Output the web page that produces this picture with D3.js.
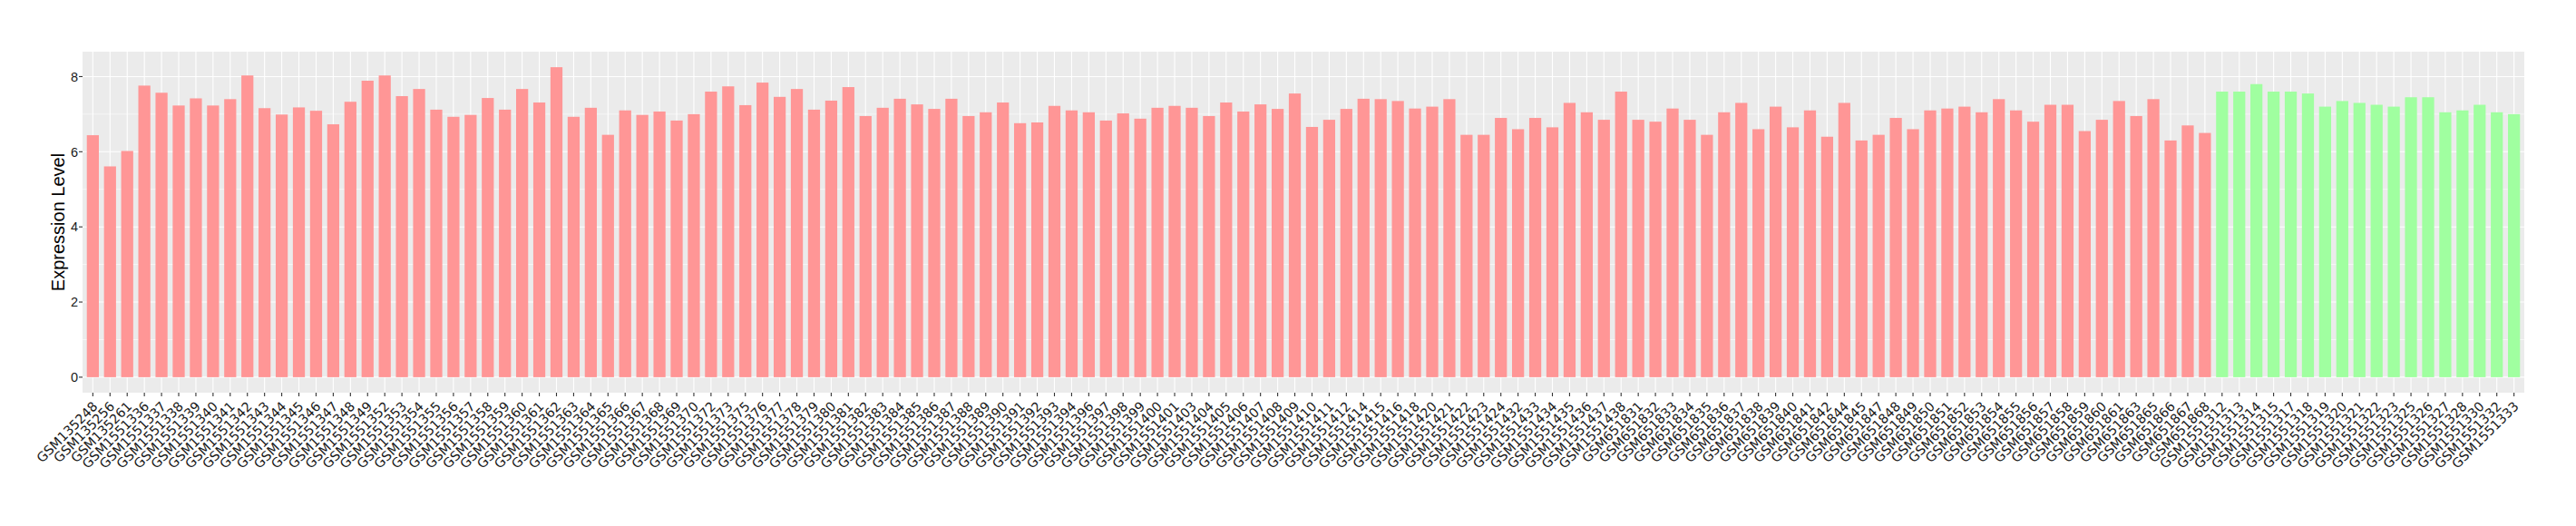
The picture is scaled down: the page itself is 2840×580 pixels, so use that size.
<!DOCTYPE html>
<html>
<head>
<meta charset="utf-8">
<script src="https://cdn.jsdelivr.net/npm/d3@7"></script>
<style>
  html, body { margin: 0; padding: 0; background: #ffffff; }
  svg { display: block; }
</style>
</head>
<body>
<svg id="chart" width="2840" height="580"></svg>
<script>
const samples = [
  "GSM135248","GSM135256","GSM135261","GSM1551336","GSM1551337","GSM1551338","GSM1551339","GSM1551340","GSM1551341","GSM1551342",
  "GSM1551343","GSM1551344","GSM1551345","GSM1551346","GSM1551347","GSM1551348","GSM1551349","GSM1551352","GSM1551353","GSM1551354",
  "GSM1551355","GSM1551356","GSM1551357","GSM1551358","GSM1551359","GSM1551360","GSM1551361","GSM1551362","GSM1551363","GSM1551364",
  "GSM1551365","GSM1551366","GSM1551367","GSM1551368","GSM1551369","GSM1551370","GSM1551372","GSM1551373","GSM1551375","GSM1551376",
  "GSM1551377","GSM1551378","GSM1551379","GSM1551380","GSM1551381","GSM1551382","GSM1551383","GSM1551384","GSM1551385","GSM1551386",
  "GSM1551387","GSM1551388","GSM1551389","GSM1551390","GSM1551391","GSM1551392","GSM1551393","GSM1551394","GSM1551396","GSM1551397",
  "GSM1551398","GSM1551399","GSM1551400","GSM1551401","GSM1551403","GSM1551404","GSM1551405","GSM1551406","GSM1551407","GSM1551408",
  "GSM1551409","GSM1551410","GSM1551411","GSM1551412","GSM1551414","GSM1551415","GSM1551416","GSM1551418","GSM1551420","GSM1551421",
  "GSM1551422","GSM1551423","GSM1551424","GSM1551432","GSM1551433","GSM1551434","GSM1551435","GSM1551436","GSM1551437","GSM1551438",
  "GSM651831","GSM651832","GSM651833","GSM651834","GSM651835","GSM651836","GSM651837","GSM651838","GSM651839","GSM651840",
  "GSM651841","GSM651842","GSM651844","GSM651845","GSM651847","GSM651848","GSM651849","GSM651850","GSM651851","GSM651852",
  "GSM651853","GSM651854","GSM651855","GSM651856","GSM651857","GSM651858","GSM651859","GSM651860","GSM651861","GSM651863",
  "GSM651865","GSM651866","GSM651867","GSM651868",
  "GSM1551312","GSM1551313","GSM1551314","GSM1551315","GSM1551317","GSM1551318","GSM1551319","GSM1551320","GSM1551321","GSM1551322",
  "GSM1551323","GSM1551325","GSM1551326","GSM1551327","GSM1551328","GSM1551330","GSM1551332","GSM1551333"
];
const expression = [
  6.44,5.61,6.02,7.76,7.57,7.23,7.42,7.23,7.40,8.03,
  7.16,6.99,7.18,7.09,6.73,7.33,7.89,8.03,7.48,7.67,
  7.12,6.93,6.98,7.43,7.12,7.67,7.31,8.25,6.93,7.17,
  6.45,7.10,6.98,7.07,6.83,7.00,7.60,7.74,7.24,7.84,
  7.46,7.67,7.12,7.36,7.72,6.95,7.17,7.41,7.26,7.14,
  7.41,6.95,7.05,7.31,6.76,6.78,7.22,7.10,7.05,6.83,
  7.02,6.88,7.17,7.22,7.17,6.95,7.31,7.07,7.26,7.14,
  7.55,6.66,6.85,7.14,7.41,7.40,7.35,7.15,7.20,7.40,
  6.45,6.45,6.90,6.60,6.90,6.65,7.30,7.05,6.85,7.60,
  6.85,6.80,7.15,6.85,6.45,7.05,7.30,6.60,7.20,6.65,
  7.10,6.40,7.30,6.30,6.45,6.90,6.60,7.10,7.15,7.20,
  7.05,7.40,7.10,6.80,7.25,7.25,6.55,6.85,7.35,6.95,
  7.40,6.30,6.70,6.50,
  7.60,7.60,7.80,7.60,7.60,7.55,7.20,7.35,7.30,7.25,
  7.20,7.45,7.45,7.05,7.10,7.25,7.05,7.00
];
const groupSizes = [124, 18];
const groupNames = ["Tumor", "Normal"];
const groupColors = ["#FF9696", "#A0FFA0"];
const yTicks = [0, 2, 4, 6, 8];
const yMinor = [1, 3, 5, 7];
const yTitle = "Expression Level";

const groupOf = [];
groupSizes.forEach((n, g) => { for (let k = 0; k < n; k++) groupOf.push(groupNames[g]); });
const data = samples.map((s, i) => ({ sample: s, value: expression[i], group: groupOf[i] }));

const svg = d3.select("#chart");
const panel = { left: 91, right: 2783, top: 57, bottom: 433 };

const n = samples.length;
// discrete axis with 0.6-unit expansion on each side
const x = d3.scalePoint()
  .domain(samples)
  .range([panel.left, panel.right])
  .padding(0.6);
const step = x.step();
const barW = step * 0.7;

const maxV = d3.max(expression);
const y = d3.scaleLinear()
  .domain([-0.05 * maxV, maxV * 1.05])
  .range([panel.bottom, panel.top]);

const color = d3.scaleOrdinal().domain(groupNames).range(groupColors);

// panel background
svg.append("rect")
  .attr("x", panel.left).attr("y", panel.top)
  .attr("width", panel.right - panel.left).attr("height", panel.bottom - panel.top)
  .attr("fill", "#EBEBEB");

// minor gridlines
svg.append("g").selectAll("line").data(yMinor).join("line")
  .attr("x1", panel.left).attr("x2", panel.right)
  .attr("y1", d => y(d)).attr("y2", d => y(d))
  .attr("stroke", "#ffffff").attr("stroke-width", 0.6);
// major gridlines
svg.append("g").selectAll("line").data(yTicks).join("line")
  .attr("x1", panel.left).attr("x2", panel.right)
  .attr("y1", d => y(d)).attr("y2", d => y(d))
  .attr("stroke", "#ffffff").attr("stroke-width", 1.1);
svg.append("g").selectAll("line").data(samples).join("line")
  .attr("x1", d => x(d)).attr("x2", d => x(d))
  .attr("y1", panel.top).attr("y2", panel.bottom)
  .attr("stroke", "#ffffff").attr("stroke-width", 1.1);

// bars
svg.append("g").selectAll("rect").data(data).join("rect")
  .attr("x", d => x(d.sample) - barW / 2)
  .attr("width", barW)
  .attr("y", d => y(d.value))
  .attr("height", d => y(0) - y(d.value))
  .attr("fill", d => color(d.group));

// y axis ticks
const yAxis = svg.append("g");
yAxis.selectAll("line").data(yTicks).join("line")
  .attr("x1", panel.left - 4).attr("x2", panel.left)
  .attr("y1", d => y(d)).attr("y2", d => y(d))
  .attr("stroke", "#333333").attr("stroke-width", 1.1);
yAxis.selectAll("text").data(yTicks).join("text")
  .attr("x", panel.left - 5).attr("y", d => y(d))
  .attr("dy", "0.36em")
  .attr("text-anchor", "end")
  .attr("font-family", "Liberation Sans, Arial, sans-serif")
  .attr("font-size", 14.5)
  .attr("fill", "#1a1a1a")
  .text(d => d);

// x axis ticks
const xAxis = svg.append("g");
xAxis.selectAll("line").data(samples).join("line")
  .attr("x1", d => x(d)).attr("x2", d => x(d))
  .attr("y1", panel.bottom).attr("y2", panel.bottom + 4)
  .attr("stroke", "#333333").attr("stroke-width", 1.1);
xAxis.selectAll("text").data(samples).join("text")
  .attr("transform", d => `translate(${x(d) + 6},${panel.bottom + 16}) rotate(-45)`)
  .attr("text-anchor", "end")
  .attr("font-family", "DejaVu Sans, sans-serif")
  .attr("font-size", 14.4)
  .attr("fill", "#1a1a1a")
  .text(d => d);

// y title
svg.append("text")
  .attr("transform", `translate(${71},${(panel.top + panel.bottom) / 2}) rotate(-90)`)
  .attr("text-anchor", "middle")
  .attr("font-family", "Liberation Sans, Arial, sans-serif")
  .attr("font-size", 20)
  .attr("fill", "#000000")
  .text(yTitle);
</script>
</body>
</html>
